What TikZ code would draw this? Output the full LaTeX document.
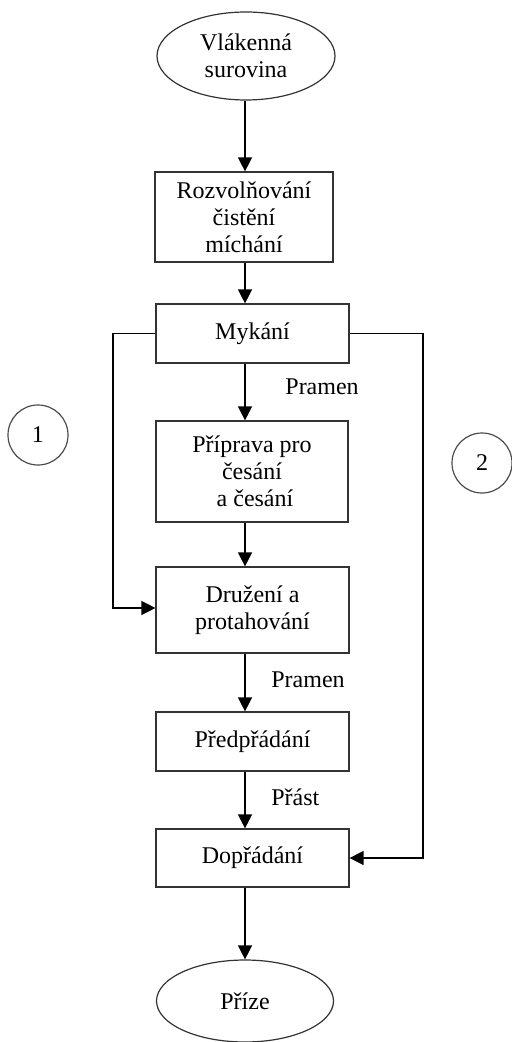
\documentclass[tikz,border=0pt]{standalone}
\usepackage{fontspec}
\setmainfont{Liberation Serif}
\usetikzlibrary{arrows.meta,shapes.geometric}
\begin{document}
\begin{tikzpicture}[x=0.5pt,y=-0.5pt,
  every node/.style={font=\fontsize{12pt}{13.5pt}\selectfont, inner sep=0pt},
  box/.style={draw=black!80, line width=0.6pt, rectangle, align=center},
  oval/.style={draw=black!80, line width=0.6pt, ellipse, align=center},
  num/.style={draw=black!70, line width=0.6pt, circle, minimum size=30pt},
  arr/.style={-{Triangle[width=7pt,length=7pt]}, line width=0.7pt},
  ln/.style={line width=0.7pt},
  lab/.style={anchor=west}]
\useasboundingbox (0,0) rectangle (512,1042);
\coordinate (ax) at (245,0);
\coordinate (lx) at (113,0);
\coordinate (rx) at (423,0);
\node[oval, minimum width=89pt, minimum height=44pt] (src) at (246,56) {Vlákenná\\surovina};
\node[box, minimum width=89pt, minimum height=45pt] (roz) at (244,217) {Rozvolňování\\čistění\\míchání};
\node[box, minimum width=96.5pt, minimum height=29.5pt] (myk) at (252.5,333.5) {Mykání};
\node[box, minimum width=96pt, minimum height=50.5pt] (pri) at (252,471.5) {Příprava pro\\česání\\\ a česání};
\node[box, minimum width=96.5pt, minimum height=43pt] (dru) at (252.5,610) {Družení a\\protahování};
\node[box, minimum width=96.5pt, minimum height=29.5pt] (pred) at (252.5,741.5) {Předpřádání};
\node[box, minimum width=96.5pt, minimum height=29pt] (dop) at (252.5,858) {Dopřádání};
\node[oval, minimum width=88.5pt, minimum height=41pt] (priz) at (245,1001) {Příze};
\node[num] (c1) at (38,435) {1};
\node[num] (c2) at (482,463) {2};
\node[lab] (l1) at (285,387) {Pramen};
\node[lab] (l2) at (271,680) {Pramen};
\node[lab] (l3) at (271,797) {Přást};
\draw[arr] (src.south -| ax) -- (roz.north -| ax);
\draw[arr] (roz.south -| ax) -- (myk.north -| ax);
\draw[arr] (myk.south -| ax) -- (pri.north -| ax);
\draw[arr] (pri.south -| ax) -- (dru.north -| ax);
\draw[arr] (dru.south -| ax) -- (pred.north -| ax);
\draw[arr] (pred.south -| ax) -- (dop.north -| ax);
\draw[arr] (dop.south -| ax) -- (priz.north -| ax);
\draw[arr] (myk.west) -- (myk.west -| lx) |- ([yshift=1pt]dru.west);
\draw[arr] (myk.east) -- (myk.east -| rx) |- (dop.east);
\end{tikzpicture}
\end{document}
